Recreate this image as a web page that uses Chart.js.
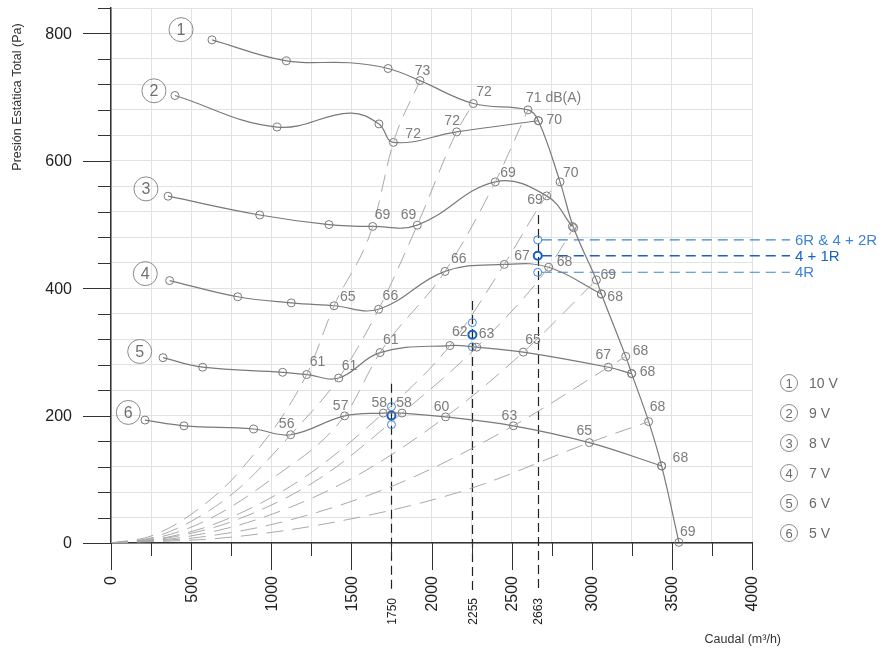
<!DOCTYPE html>
<html>
<head>
<meta charset="utf-8">
<script src="https://cdn.jsdelivr.net/npm/chart.js@4.4.0/dist/chart.umd.min.js"></script>
<style>
  html, body { margin: 0; padding: 0; background: #fff; }
  #wrap { width: 886px; height: 655px; position: relative; }
</style>
</head>
<body>
<div id="wrap"><canvas id="c" width="886" height="655"></canvas></div>
<script>
// Curvas del ventilador: [caudal m3/h, presión Pa, nivel sonoro dB(A)]
const curve10V = [[630,790],[1094,757],[1729,745],[1928,726,'73'],[2261,690,'72'],[2602,680,'71 dB(A)'],[2667,663],[2802,567,'70'],[2887,495],[3029,413,'69'],[3060,391],[3212,293,'68'],[3249,266],[3355,190.6,'68'],[3436,121],[3544,1,'69']];
const curve9V  = [[399,702.6],[1036,653],[1672,658],[1762,629,'72'],[2157,645.5,'72'],[2667,663,'70']];
const curve8V  = [[356,544.5],[928,515],[1360,500],[1633,497,'69'],[1911,499,'69'],[2398,567,'69'],[2719,545,'69'],[2879,497]];
const curve7V  = [[366,412],[791,386.6],[1125,377],[1392,372.5,'65'],[1670,367,'66'],[2084,426.4,'66'],[2454,437.4,'67'],[2731,433,'68'],[3060,391,'68']];
const curve6V  = [[324.5,291],[572,276],[1071,268],[1221,264.5,'61'],[1421,259,'61'],[1679,299,'61'],[2115,310,'62'],[2282,307.5,'63'],[2573,299.7,'65'],[3103,276,'67'],[3249,266,'68']];
const curve5V  = [[212,193],[455.5,184],[890.5,179],[1121,170,'56'],[1458,199.6,'57'],[1699,204,'58'],[1816,204,'58'],[2088,198,'60'],[2511,184,'63'],[2985,157.6,'65'],[3436,121,'68']];

// Puntos intermedios de trazado (sin marcador)
const trace10V = [[1491,754]];
const trace9V  = [[1491,675]];

// Curvas de instalación (líneas discontinuas)
const sysA = [[0,0],[250,11],[500,45],[800,112],[1221,264.5],[1392,372.5],[1633,497],[1762,629],[1928,726]];
const sysB = [[0,0],[250,8],[500,34],[800,86],[1121,170],[1421,259],[1670,367],[1911,499],[2157,645.5],[2261,690]];
const sysC = [[0,0],[300,9],[600,36],[1000,100],[1458,199.6],[1679,299],[2084,426.4],[2398,567],[2602,680]];
const sysD = [[0,0],[350,9],[700,35],[1200,102],[1699,204],[2115,310],[2454,437.4],[2719,545],[2802,567]];
const sysE = [[0,0],[400,10],[800,38],[1300,101],[1816,204],[2282,307.5],[2731,433],[2887,495]];
const sysF = [[0,0],[450,9],[900,36],[1500,101],[2088,198],[2573,299.7],[3029,413]];
const sysG = [[0,0],[550,9],[1100,35],[1800,94],[2511,184],[3103,276],[3212,293]];
const sysH = [[0,0],[700,8],[1400,33],[2200,82],[2985,157.6],[3355,190.6]];

// Puntos de trabajo según regulación
const flows    = [1750, 2255, 2663];
const flowTops = [250, 380, 515];
const p6R      = [214, 346, 476];
const p4plus1R = [200, 327, 451];
const p4R      = [186, 308, 425];
const regLabels = ['6R & 4 + 2R', '4 + 1R', '4R'];

// Ejes
const xTicks = [0,500,1000,1500,2000,2500,3000,3500,4000];
const yTicks = [0,200,400,600,800];
const voltages = ['10 V','9 V','8 V','7 V','6 V','5 V'];
const curveTags = [[437,806],[268,710],[218,556],[214,423],[179,300.7],[108,205]];

// Colocación de las etiquetas dB: [dx, dy, alineación]
const place10V = [[2.5,-9,'center'],[3,-11,'left'],[-2,-12,'left'],[3,-9,'left'],[4,-5,'left'],[7,-5,'left'],[1,-14,'left'],[1,-10,'left']];
const place9V  = [[12,-8.5,'left'],[-4.5,-11,'center'],[8,-0.5,'left']];
const place8V  = [[2,-11,'left'],[-1,-10,'right'],[5,-8.5,'left'],[-4,4.5,'right']];
const place7V  = [[6,-8.5,'left'],[4,-13,'left'],[6,-12,'left'],[10,-8,'left'],[8,-5,'left'],[6,3,'left']];
const place6V  = [[3,-12,'left'],[3,-12,'left'],[3,-12,'left'],[2,-13,'left'],[2,-13,'left'],[2,-12,'left'],[-5,-12,'center'],[8,-1,'left']];
const place5V  = [[-4,-10.5,'center'],[-4,-10,'center'],[-4,-10,'center'],[2,-10,'center'],[-4,-10,'center'],[-4,-10,'center'],[-5,-11,'center'],[11,-8,'left']];

const FONT = '"Liberation Sans", Arial, Helvetica, sans-serif';
const GRAY_LINE = '#7a7a7a';
const BLUE = '#3d84d4';
const BLUE_DARK = '#1562c0';

const toXY = arr => arr.map(p => ({ x: p[0], y: p[1] }));
const merged = (a, b) => a.concat(b).sort((m, n) => m[0] - n[0]);

const curves = [
  { pts: curve10V, trace: trace10V, place: place10V },
  { pts: curve9V,  trace: trace9V,  place: place9V },
  { pts: curve8V,  trace: [],       place: place8V },
  { pts: curve7V,  trace: [],       place: place7V },
  { pts: curve6V,  trace: [],       place: place6V },
  { pts: curve5V,  trace: [],       place: place5V }
];

const datasets = [];
[sysA, sysB, sysC, sysD, sysE, sysF, sysG, sysH].forEach(s => datasets.push({
  data: toXY(s), showLine: true, cubicInterpolationMode: 'monotone',
  borderColor: '#a9a9a9', borderWidth: 1, borderDash: [17, 9],
  pointRadius: 0, fill: false
}));
curves.forEach(c => datasets.push({
  data: toXY(merged(c.pts, c.trace)), showLine: true, tension: 0.4,
  borderColor: GRAY_LINE, borderWidth: 1.2, pointRadius: 0, fill: false
}));
curves.forEach(c => datasets.push({
  data: toXY(c.pts), showLine: false, clip: false,
  pointRadius: 4, pointBorderWidth: 1, pointBorderColor: GRAY_LINE,
  pointBackgroundColor: 'rgba(0,0,0,0)'
}));
[[p6R, BLUE, 1], [p4plus1R, BLUE_DARK, 2], [p4R, BLUE, 1]].forEach(([vals, col, w]) => datasets.push({
  data: flows.map((f, i) => ({ x: f, y: vals[i] })), showLine: false, clip: false,
  pointRadius: 4, pointBorderWidth: w, pointBorderColor: col,
  pointBackgroundColor: 'rgba(0,0,0,0)'
}));

const decor = {
  id: 'decor',
  beforeDatasetsDraw(chart) {
    const { ctx, chartArea: a, scales: { x: X, y: Y } } = chart;
    ctx.save();
    // Líneas verticales de caudal
    ctx.strokeStyle = '#222';
    ctx.lineWidth = 1.2;
    ctx.setLineDash([9, 5]);
    flows.forEach((f, i) => {
      const px = Math.round(X.getPixelForValue(f)) + 0.5;
      ctx.beginPath();
      ctx.moveTo(px, Y.getPixelForValue(flowTops[i]));
      ctx.lineTo(px, a.bottom + 50);
      ctx.stroke();
    });
    // Líneas horizontales de regulación
    const last = flows.length - 1;
    const x0 = X.getPixelForValue(flows[last]) + 4;
    [[p6R, BLUE, 1.1], [p4plus1R, BLUE_DARK, 1.7], [p4R, BLUE, 1.1]].forEach(([vals, col, w]) => {
      const py = Y.getPixelForValue(vals[last]);
      ctx.strokeStyle = col;
      ctx.lineWidth = w;
      ctx.setLineDash([10, 6]);
      ctx.beginPath();
      ctx.moveTo(x0, py);
      ctx.lineTo(a.right + 38, py);
      ctx.stroke();
    });
    ctx.restore();
  },
  afterDatasetsDraw(chart) {
    const { ctx, chartArea: a, scales: { x: X, y: Y } } = chart;
    ctx.save();
    ctx.setLineDash([]);

    // Etiquetas dB
    ctx.font = '14px ' + FONT;
    ctx.fillStyle = '#7c7c7c';
    ctx.textBaseline = 'middle';
    curves.forEach(c => {
      let k = 0;
      c.pts.forEach(p => {
        if (p[2] === undefined) return;
        const [dx, dy, al] = c.place[k++];
        ctx.textAlign = al;
        ctx.fillText(p[2], X.getPixelForValue(p[0]) + dx, Y.getPixelForValue(p[1]) + dy);
      });
    });

    // Números de curva
    curveTags.forEach((t, i) => {
      const cx = X.getPixelForValue(t[0]), cy = Y.getPixelForValue(t[1]);
      ctx.beginPath();
      ctx.arc(cx, cy, 12, 0, Math.PI * 2);
      ctx.strokeStyle = '#8a8a8a';
      ctx.lineWidth = 1;
      ctx.stroke();
      ctx.fillStyle = '#707070';
      ctx.font = '16px ' + FONT;
      ctx.textAlign = 'center';
      ctx.fillText(String(i + 1), cx, cy + 1);
    });

    // Leyenda de tensiones
    voltages.forEach((v, i) => {
      const cx = a.right + 37, cy = 383 + i * 30;
      ctx.beginPath();
      ctx.arc(cx, cy, 8.5, 0, Math.PI * 2);
      ctx.strokeStyle = '#8a8a8a';
      ctx.lineWidth = 1;
      ctx.stroke();
      ctx.fillStyle = '#6a6a6a';
      ctx.font = '13px ' + FONT;
      ctx.textAlign = 'center';
      ctx.fillText(String(i + 1), cx, cy + 1);
      ctx.font = '14px ' + FONT;
      ctx.textAlign = 'left';
      ctx.fillText(v, cx + 20, cy + 1);
    });

    // Textos de regulación
    const last = flows.length - 1;
    ctx.font = '15px ' + FONT;
    ctx.textAlign = 'left';
    [[p6R, BLUE], [p4plus1R, BLUE_DARK], [p4R, BLUE]].forEach(([vals, col], i) => {
      ctx.fillStyle = col;
      ctx.fillText(regLabels[i], a.right + 43, Y.getPixelForValue(vals[last]) + 1);
    });

    // Marcas y rótulos del eje Y
    ctx.strokeStyle = '#333';
    ctx.lineWidth = 1;
    for (let v = 0; v <= 840; v += 40) {
      const py = Math.round(Y.getPixelForValue(v)) + 0.5;
      const len = v % 200 === 0 ? 28 : 13;
      ctx.beginPath();
      ctx.moveTo(a.left - len, py);
      ctx.lineTo(a.left, py);
      ctx.stroke();
    }
    ctx.fillStyle = '#222';
    ctx.font = '16px ' + FONT;
    ctx.textAlign = 'right';
    ctx.textBaseline = 'middle';
    yTicks.forEach(v => ctx.fillText(String(v), a.left - 39, Y.getPixelForValue(v) + 1));

    // Marcas y rótulos del eje X
    for (let v = 0; v <= 4000; v += 250) {
      const px = Math.round(X.getPixelForValue(v)) + 0.5;
      const len = v % 500 === 0 ? 27 : 13;
      ctx.beginPath();
      ctx.moveTo(px, a.bottom);
      ctx.lineTo(px, a.bottom + len);
      ctx.stroke();
    }
    xTicks.forEach(v => {
      ctx.save();
      ctx.translate(X.getPixelForValue(v) + 1, a.bottom + 33);
      ctx.rotate(-Math.PI / 2);
      ctx.textAlign = 'right';
      ctx.textBaseline = 'middle';
      ctx.font = '16px ' + FONT;
      ctx.fillStyle = '#222';
      ctx.fillText(String(v), 0, 0);
      ctx.restore();
    });
    flows.forEach(f => {
      ctx.save();
      ctx.translate(X.getPixelForValue(f) + 1, a.bottom + 55);
      ctx.rotate(-Math.PI / 2);
      ctx.textAlign = 'right';
      ctx.textBaseline = 'middle';
      ctx.font = '12px ' + FONT;
      ctx.fillStyle = '#222';
      ctx.fillText(String(f), 0, 0);
      ctx.restore();
    });

    // Títulos de ejes
    ctx.save();
    ctx.translate(18, 97);
    ctx.rotate(-Math.PI / 2);
    ctx.textAlign = 'center';
    ctx.textBaseline = 'middle';
    ctx.font = '12.5px ' + FONT;
    ctx.fillStyle = '#333';
    ctx.fillText('Presión Estática Total (Pa)', 0, 0);
    ctx.restore();

    ctx.font = '12.5px ' + FONT;
    ctx.fillStyle = '#333';
    ctx.textAlign = 'right';
    ctx.textBaseline = 'middle';
    ctx.fillText('Caudal (m³/h)', a.right + 29, a.bottom + 97);

    ctx.restore();
  }
};

new Chart(document.getElementById('c').getContext('2d'), {
  type: 'scatter',
  data: { datasets },
  options: {
    responsive: false,
    animation: false,
    devicePixelRatio: 1,
    layout: { padding: { left: 0, right: 134, top: 8, bottom: 0 } },
    plugins: { legend: { display: false }, tooltip: { enabled: false } },
    scales: {
      x: {
        type: 'linear', min: 0, max: 4000,
        ticks: { stepSize: 250, display: false },
        grid: { color: '#e2e2e2', lineWidth: 1, drawTicks: false },
        border: { color: '#333', width: 1.5 },
        afterFit(s) { s.height = 112; }
      },
      y: {
        type: 'linear', min: 0, max: 840,
        ticks: { stepSize: 40, display: false },
        grid: { color: '#e2e2e2', lineWidth: 1, drawTicks: false },
        border: { color: '#333', width: 1.5 },
        afterFit(s) { s.width = 111; }
      }
    }
  },
  plugins: [decor]
});
</script>
</body>
</html>
